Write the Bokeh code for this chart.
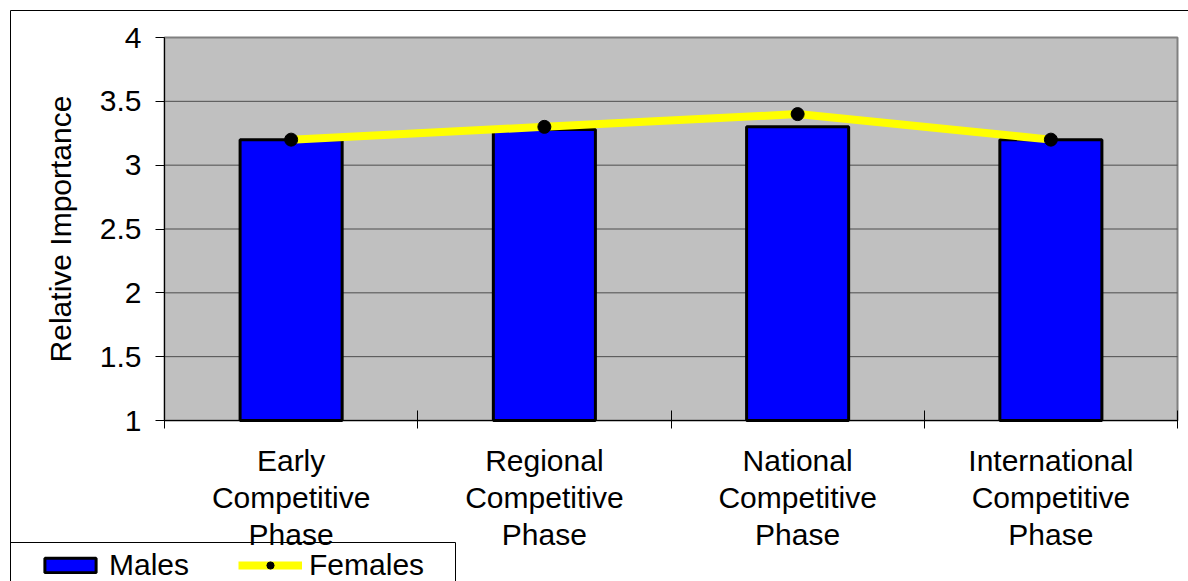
from bokeh.plotting import figure
from bokeh.models import (FixedTicker, Legend, LegendItem, Range1d, BoxAnnotation,
                          ColumnDataSource)
from bokeh.embed import file_html
from bokeh.resources import INLINE

# ---- data ----
categories = ["Early Competitive Phase", "Regional Competitive Phase",
              "National Competitive Phase", "International Competitive Phase"]
males = [3.2, 3.28, 3.3, 3.2]
females = [3.2, 3.3, 3.4, 3.2]
y_ticks = [1, 1.5, 2, 2.5, 3, 3.5, 4]
y_labels = ["1", "1.5", "2", "2.5", "3", "3.5", "4"]

FONT = "Liberation Sans"
FS = "30px"

# ---- layout (pixels) ----
W, H = 1188, 581
PLOT_L, PLOT_R, PLOT_T, PLOT_B = 164, 1177, 37, 420
n = len(categories)
y0, y1 = y_ticks[0], y_ticks[-1]
xs = (PLOT_R - PLOT_L) / n
ys = (PLOT_B - PLOT_T) / (y1 - y0)
x_range = Range1d(-PLOT_L / xs, n + (W - PLOT_R) / xs)
y_range = Range1d(y0 - (H - PLOT_B) / ys, y1 + PLOT_T / ys)

xpos = [i + 0.5 for i in range(n)]
src = ColumnDataSource(dict(x=xpos, males=males, females=females))

p = figure(width=W, height=H, output_backend="svg", toolbar_location=None,
           x_range=x_range, y_range=y_range, min_border=0)
p.background_fill_color = None
p.border_fill_color = None
p.outline_line_color = None
p.xgrid.visible = False
p.ygrid.visible = False

# plot area
p.quad(left=0, right=n, bottom=y0, top=y1, fill_color="#C0C0C0",
       line_color="#808080", line_width=2)
gy = y_ticks[1:-1]
p.segment(x0=[0] * len(gy), x1=[n] * len(gy), y0=gy, y1=gy,
          line_color="#4d4d4d", line_width=1)

# bars
bars = p.vbar(x="x", top="males", bottom=y0, width=0.403, source=src,
              fill_color="#0000FF", line_color="black", line_width=3)
# line + dots
ln = p.line(x="x", y="females", source=src, line_color="#FFFF00", line_width=8)
dots = p.scatter(x="x", y="females", source=src, size=13, fill_color="black",
                 line_color="black")

# y axis
ya = p.yaxis[0]
ya.fixed_location = 0
ya.bounds = (y0, y1)
ya.ticker = FixedTicker(ticks=y_ticks)
ya.major_label_overrides = {t: l for t, l in zip(y_ticks, y_labels)}
ya.major_label_text_font = FONT
ya.major_label_text_font_size = FS
ya.major_label_text_color = "black"
ya.major_tick_out = 9
ya.major_tick_in = 0
ya.minor_tick_out = 0
ya.minor_tick_in = 0
ya.major_label_standoff = 14
ya.axis_line_color = "black"
ya.major_tick_line_color = "black"
ya.axis_label = "Relative Importance"
ya.axis_label_text_font = FONT
ya.axis_label_text_font_size = FS
ya.axis_label_text_font_style = "normal"
ya.axis_label_text_color = "black"
ya.axis_label_standoff = 20

# x axis
xa = p.xaxis[0]
xa.fixed_location = y0
xa.bounds = (0, n)
xa.ticker = FixedTicker(ticks=xpos, minor_ticks=list(range(n + 1)))
xa.major_label_overrides = {x: c.replace(" ", "\n") for x, c in zip(xpos, categories)}
xa.major_label_text_font = FONT
xa.major_label_text_font_size = FS
xa.major_label_text_color = "black"
xa.major_label_text_line_height = 1.13
xa.major_tick_in = 0
xa.major_tick_out = 0
xa.minor_tick_in = 10
xa.minor_tick_out = 8
xa.minor_tick_line_color = "black"
xa.major_label_standoff = 15
xa.axis_line_color = "black"

# legend
legend = Legend(items=[LegendItem(label="Males", renderers=[bars]),
                       LegendItem(label="Females", renderers=[ln, dots])],
                orientation="horizontal", location=(38, -1),
                glyph_width=64, glyph_height=18, label_standoff=7, spacing=49,
                padding=0, margin=0, border_line_alpha=0,
                background_fill_color="white", background_fill_alpha=1.0,
                label_text_font=FONT, label_text_font_size=FS,
                label_text_color="black")
p.add_layout(legend)

# chart border and legend box
outer = BoxAnnotation(left=10, right=3000, top=10, bottom=3000,
                      left_units="canvas", right_units="canvas",
                      top_units="canvas", bottom_units="canvas",
                      fill_alpha=0, line_color="black", line_alpha=1.0,
                      line_width=1)
legbox = BoxAnnotation(left=10, right=455, top=542, bottom=3000,
                       left_units="canvas", right_units="canvas",
                       top_units="canvas", bottom_units="canvas",
                       fill_alpha=0, line_color="black", line_alpha=1.0,
                       line_width=1)
p.add_layout(outer)
p.add_layout(legbox)

open("out.html", "w").write(file_html(p, INLINE))
